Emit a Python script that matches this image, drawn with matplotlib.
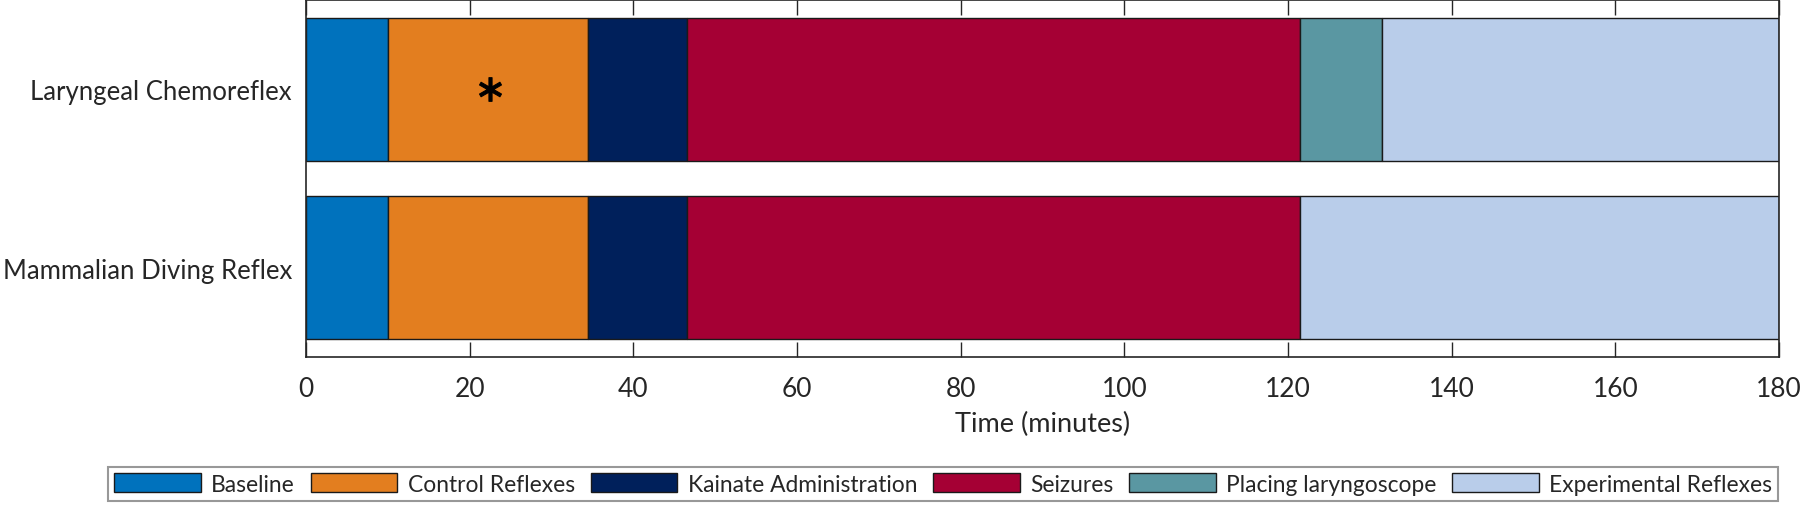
import matplotlib
matplotlib.use('Agg')
import matplotlib.pyplot as plt
from matplotlib.patches import Patch

plt.rcParams['font.family'] = ['Lato', 'DejaVu Sans']

rows = ['Laryngeal Chemoreflex', 'Mammalian Diving Reflex']
phases = ['Baseline', 'Control Reflexes', 'Kainate Administration', 'Seizures',
          'Placing laryngoscope', 'Experimental Reflexes']
colors = ['#0072BD', '#E37E1F', '#00205B', '#A50034', '#5A97A2', '#B9CDEA']

# minutes spent in each phase, per row
laryngeal = [10, 24.5, 12, 75, 10, 48.5]
diving = [10, 24.5, 12, 75, 0, 58.5]
durations = [laryngeal, diving]

star_x = 22.5
star_row = 0

fig = plt.figure(figsize=(18, 5.06), dpi=100)
ax = fig.add_axes([0.17, 0.2925, 0.8183, 0.7055])

for i, durs in enumerate(durations):
    left = 0
    for j, d in enumerate(durs):
        if d > 0:
            ax.barh(i, d, left=left, height=0.8, color=colors[j],
                    edgecolor='#1a1a1a', linewidth=1.0)
        left += d

ax.plot(star_x, star_row, marker='$\\ast$', markersize=17, color='black',
        markeredgewidth=0.8, linestyle='none')

ax.set_xlim(0, 180)
ax.set_ylim(-0.5, 1.5)
ax.invert_yaxis()
ax.set_yticks(range(len(rows)))
ax.set_yticklabels(rows, fontsize=18.5, color='#262626')
ax.set_xticks(range(0, 181, 20))
ax.tick_params(axis='x', direction='in', length=10.8, width=1.0, top=True,
               labelsize=19, colors='#262626', pad=14)
ax.tick_params(axis='y', length=0, pad=10)
ax.set_xlabel('Time (minutes)', fontsize=19.5, color='#262626', labelpad=7)
for s in ax.spines.values():
    s.set_color('#262626')
    s.set_linewidth(1.2)

handles = [Patch(facecolor=c, edgecolor='#1a1a1a', linewidth=1.0) for c in colors]
leg = fig.legend(handles, phases, loc='center', bbox_to_anchor=(0.524, 0.0415),
                 ncol=6, fontsize=16.4, frameon=True, fancybox=False,
                 handlelength=3.8, handleheight=0.9, handletextpad=0.45,
                 columnspacing=0.7, borderpad=0.28, borderaxespad=0)
leg.get_frame().set_edgecolor('#7f7f7f')
leg.get_frame().set_linewidth(1.5)
for t in leg.get_texts():
    t.set_color('#262626')

fig.savefig('out.png', dpi=100)
